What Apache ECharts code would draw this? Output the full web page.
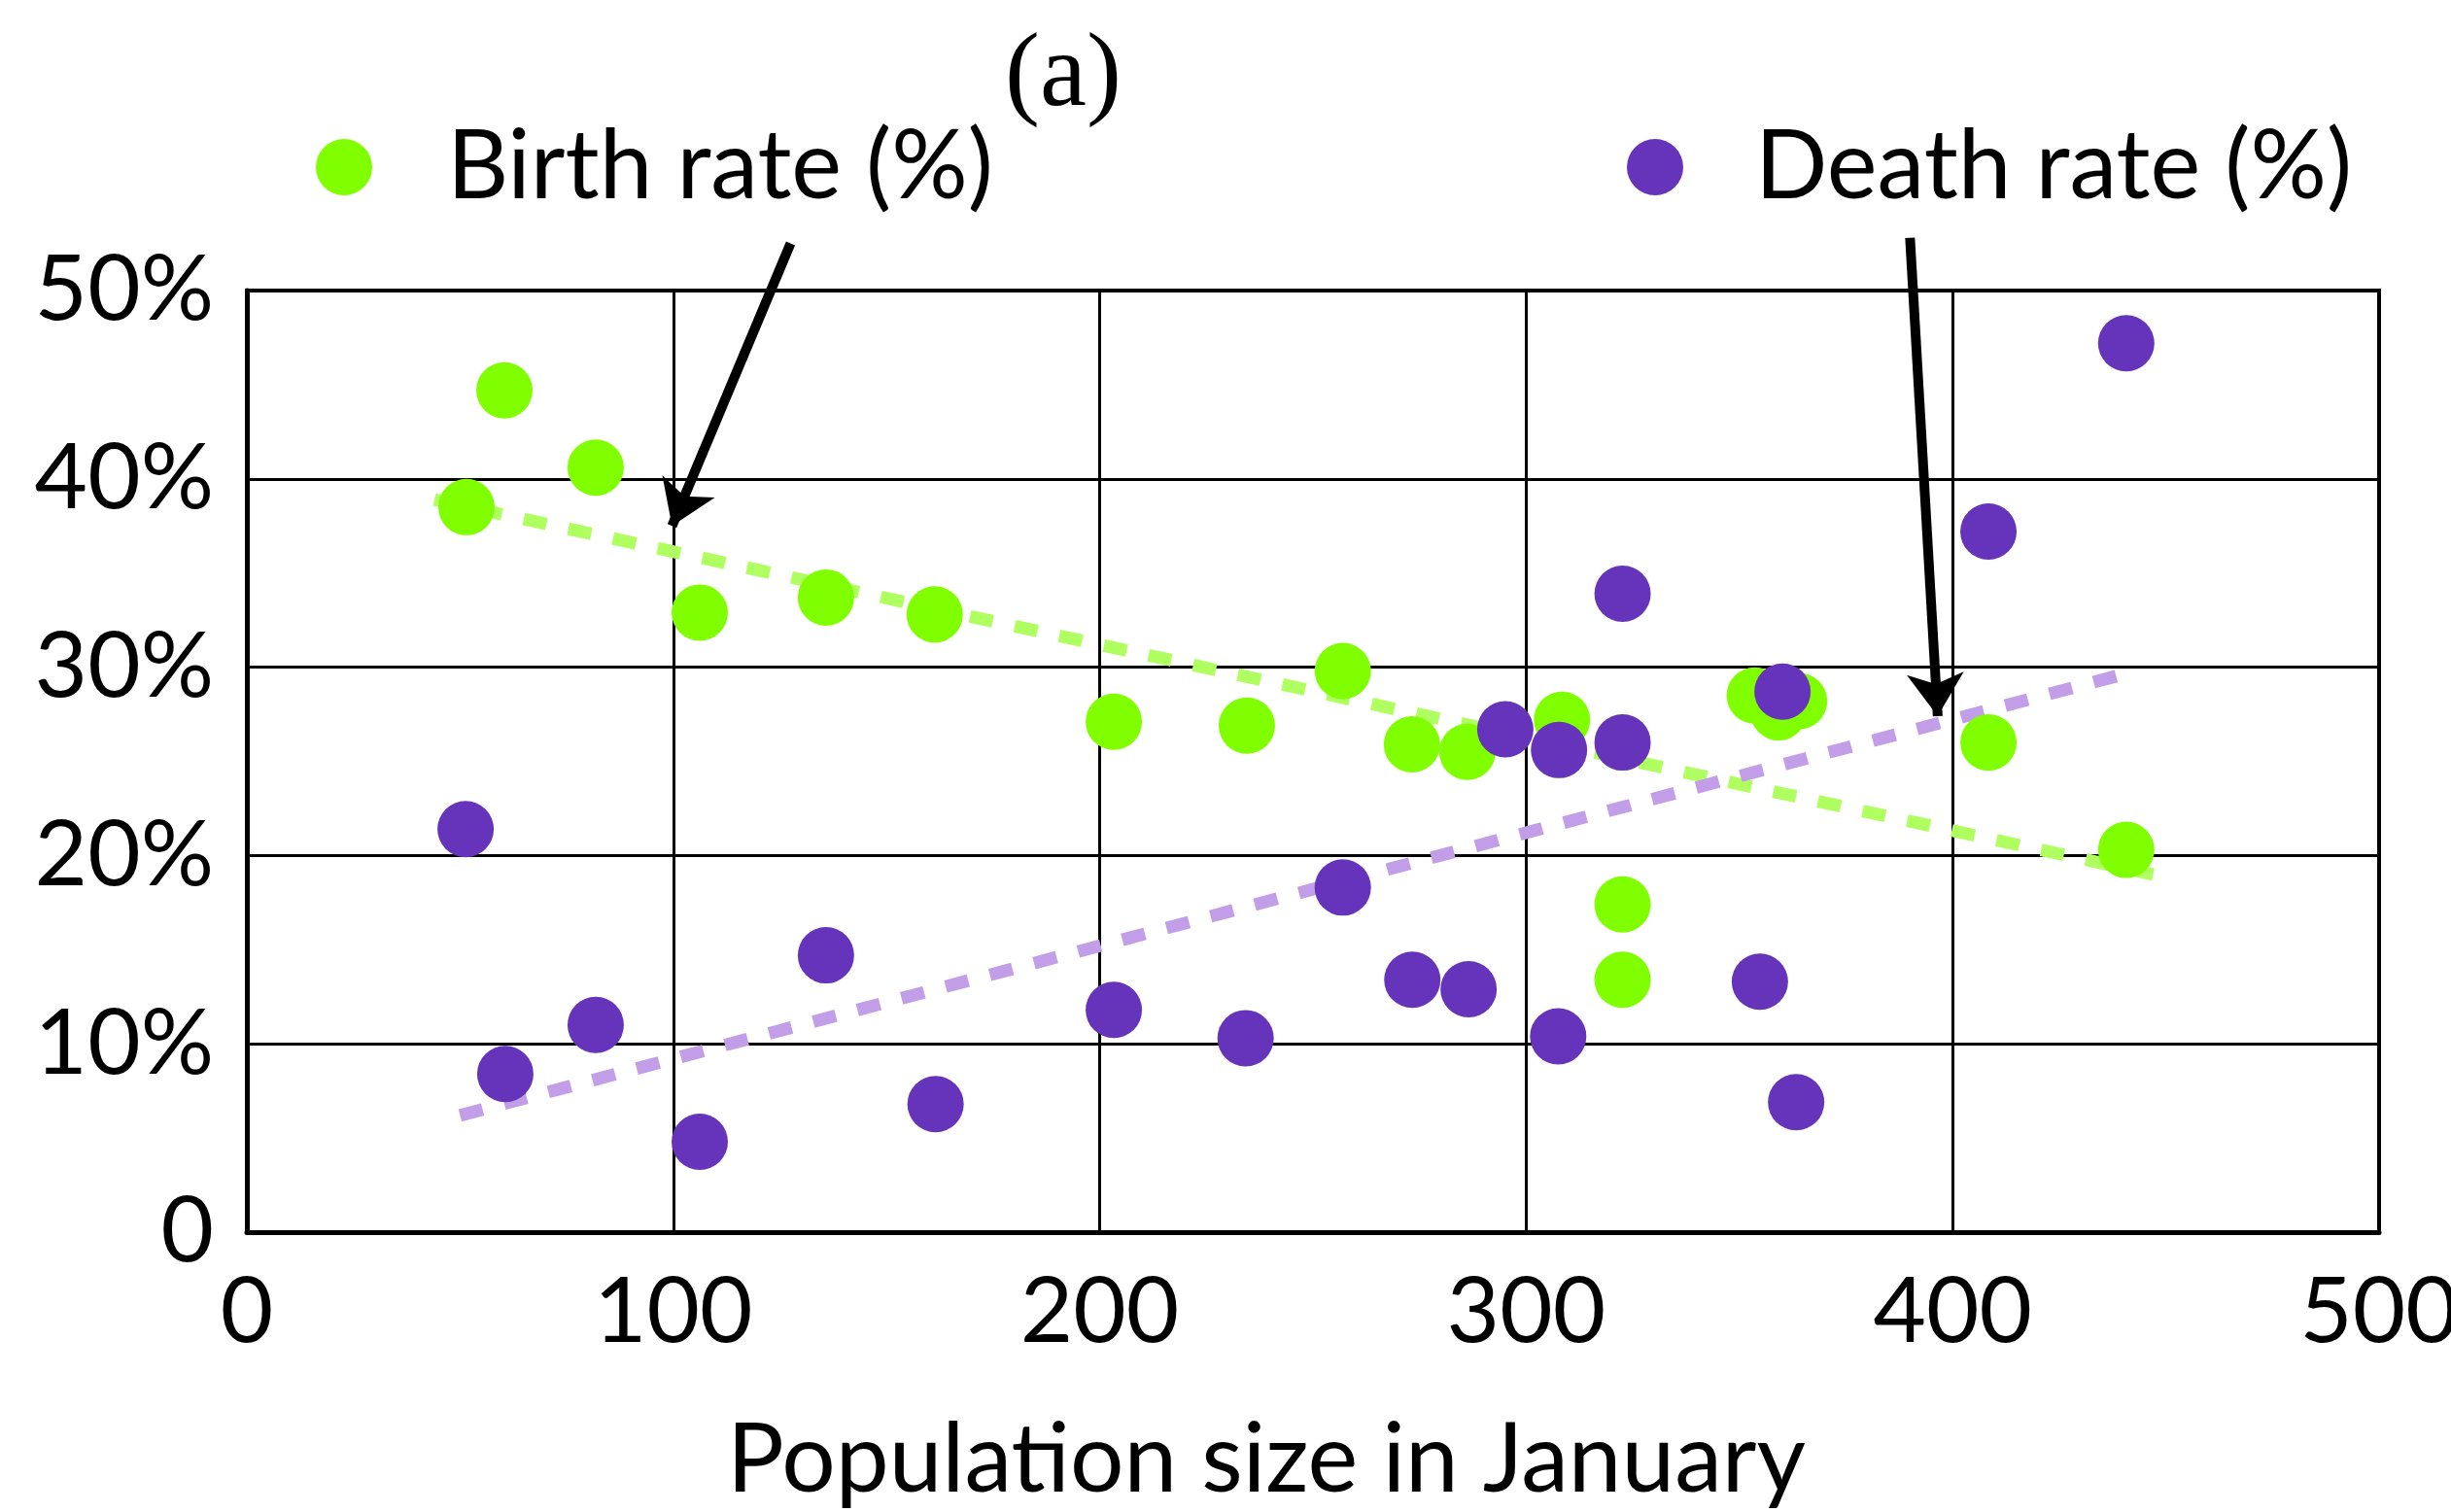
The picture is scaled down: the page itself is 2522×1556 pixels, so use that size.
<!DOCTYPE html>
<html>
<head>
<meta charset="utf-8">
<title>Birth and death rate vs population size</title>
<script src="https://cdn.jsdelivr.net/npm/echarts@6.0.0/dist/echarts.min.js"></script>
<style>
  html, body { margin: 0; padding: 0; background: #fff; overflow: hidden; }
  #chart { width: 2522px; height: 1556px; }
</style>
</head>
<body>
<div id="chart"></div>
<script>
  // values
  var birthPop = [51.5, 60.4, 81.8, 106.2, 135.8, 161.3, 203.3, 234.5, 257.0, 273.2, 286.2, 308.4, 322.6, 322.6, 353.6, 359.2, 364.0, 408.4, 440.7];
  var birthRate = [38.5, 44.7, 40.6, 32.9, 33.7, 32.8, 27.1, 26.9, 29.8, 25.9, 25.5, 27.2, 17.4, 13.4, 28.5, 27.6, 28.2, 26.0, 20.3];
  var deathPop = [51.3, 60.6, 81.8, 106.2, 135.8, 161.5, 203.3, 234.2, 257.0, 273.3, 286.5, 295.1, 307.5, 307.7, 322.6, 322.6, 354.8, 360.1, 363.3, 408.4, 440.7];
  var deathRate = [21.4, 8.4, 11.0, 4.8, 14.7, 6.8, 11.8, 10.3, 18.3, 13.4, 12.9, 26.7, 10.4, 25.6, 33.9, 26.0, 13.3, 28.7, 6.9, 37.2, 47.2];

  // dashed trend lines, start and end
  var birthTrend = [[44, 38.9], [447, 19.0]];
  var deathTrend = [[50, 6.2], [443, 29.8]];

  // annotation arrows (from legend down to the trend lines)
  var birthArrow = [[127.5, 52.5], [99.7, 37.5]];
  var deathArrow = [[390.0, 52.8], [396.5, 27.4]];

  var xTicks = [0, 100, 200, 300, 400, 500];
  var yTicks = [0, 10, 20, 30, 40, 50];

  function zip(xs, ys) {
    return xs.map(function (x, i) { return [x, ys[i]]; });
  }

  var font = 'Lato';
  var chart = echarts.init(document.getElementById('chart'));

  chart.setOption({
    animation: false,
    backgroundColor: '#fff',
    textStyle: { fontFamily: font, color: '#000' },
    grid: {
      left: 254,
      right: 74,
      top: 299,
      bottom: 288,
      show: true,
      borderColor: '#000',
      borderWidth: 4,
      containLabel: false,
      outerBoundsMode: 'none'
    },
    legend: [{
      data: [{ name: 'Birth rate (%)', icon: 'circle' }],
      left: 320,
      top: 118,
      itemWidth: 58,
      itemHeight: 58,
      textStyle: { fontFamily: font, fontSize: 98, color: '#000', padding: [0, 0, 0, 72] },
      selectedMode: false
    }, {
      data: [{ name: 'Death rate (%)', icon: 'circle' }],
      left: 1669,
      top: 118,
      itemWidth: 58,
      itemHeight: 58,
      textStyle: { fontFamily: font, fontSize: 98, color: '#000', padding: [0, 0, 0, 69] },
      selectedMode: false
    }],
    graphic: [{
      type: 'text',
      x: 1094,
      y: 80,
      style: {
        text: '(a)',
        font: '108px "Liberation Serif", "DejaVu Serif", serif',
        fill: '#000',
        align: 'center',
        verticalAlign: 'middle'
      }
    }],
    xAxis: {
      type: 'value',
      min: xTicks[0],
      max: xTicks[xTicks.length - 1],
      interval: 100,
      name: 'Population size in January',
      nameLocation: 'middle',
      nameGap: 186,
      nameTextStyle: { fontFamily: font, fontSize: 98, color: '#000', padding: [0, 96, 0, 0] },
      axisLine: { show: true, onZero: false, lineStyle: { color: '#000', width: 5 } },
      axisTick: { show: false },
      axisLabel: { fontFamily: font, fontSize: 94, color: '#000', margin: 36 },
      splitLine: { show: true, lineStyle: { color: '#000', width: 3 } }
    },
    yAxis: {
      type: 'value',
      min: yTicks[0],
      max: yTicks[yTicks.length - 1],
      interval: 10,
      axisLine: { show: true, onZero: false, lineStyle: { color: '#000', width: 5 } },
      axisTick: { show: false },
      axisLabel: {
        fontFamily: font,
        fontSize: 94,
        color: '#000',
        margin: 34,
        formatter: function (v) { return v === 0 ? '0' : v + '%'; }
      },
      splitLine: { show: true, lineStyle: { color: '#000', width: 3 } }
    },
    series: [
      {
        name: 'birthTrend',
        type: 'lines',
        coordinateSystem: 'cartesian2d',
        clip: false,
        z: 2,
        symbol: 'none',
        lineStyle: { color: '#b0ff60', width: 13, opacity: 1, type: [24, 23], curveness: 0 },
        data: [{ coords: birthTrend }],
        silent: true
      },
      {
        name: 'deathTrend',
        type: 'lines',
        coordinateSystem: 'cartesian2d',
        clip: false,
        z: 2,
        symbol: 'none',
        lineStyle: { color: '#c29de8', width: 13, opacity: 1, type: [24, 23], curveness: 0 },
        data: [{ coords: deathTrend }],
        silent: true
      },
      {
        name: 'Birth rate (%)',
        type: 'scatter',
        data: zip(birthPop, birthRate),
        symbol: 'circle',
        symbolSize: 58,
        z: 3,
        itemStyle: { color: '#80ff00', opacity: 1 }
      },
      {
        name: 'Death rate (%)',
        type: 'scatter',
        data: zip(deathPop, deathRate),
        symbol: 'circle',
        symbolSize: 58,
        z: 4,
        itemStyle: { color: '#6633bb', opacity: 1 }
      },
      {
        name: 'arrows',
        type: 'lines',
        coordinateSystem: 'cartesian2d',
        clip: false,
        z: 5,
        symbol: ['none', 'arrow'],
        symbolSize: [60, 44],
        lineStyle: { color: '#000', width: 10, opacity: 1, curveness: 0 },
        data: [{ coords: birthArrow }, { coords: deathArrow }],
        silent: true
      }
    ]
  });
</script>
</body>
</html>
